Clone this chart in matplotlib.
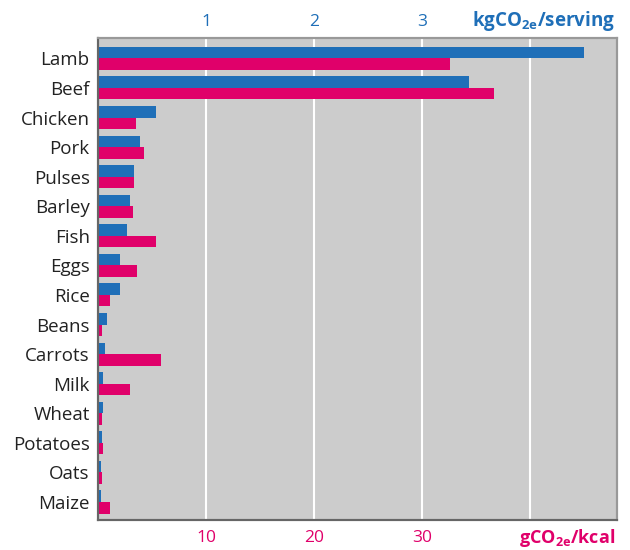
import matplotlib
matplotlib.use("Agg")
import matplotlib.pyplot as plt
import numpy as np

plt.rcParams['font.family'] = ['Open Sans', 'DejaVu Sans']

foods = ['Lamb', 'Beef', 'Chicken', 'Pork', 'Pulses', 'Barley', 'Fish', 'Eggs',
         'Rice', 'Beans', 'Carrots', 'Milk', 'Wheat', 'Potatoes', 'Oats', 'Maize']
# kgCO2e per serving (top axis)
per_serving = [4.50, 3.43, 0.54, 0.39, 0.33, 0.30, 0.27, 0.20,
               0.20, 0.08, 0.06, 0.05, 0.05, 0.04, 0.03, 0.025]
# gCO2e per kcal (bottom axis)
per_kcal = [32.6, 36.6, 3.5, 4.3, 3.3, 3.2, 5.4, 3.65,
            1.07, 0.33, 5.8, 3.0, 0.33, 0.42, 0.33, 1.15]

blue = '#1f6fb8'
pink = '#e0006a'

fig = plt.figure(figsize=(6.3, 5.5), dpi=100)
ax = fig.add_axes([0.1556, 0.0545, 0.8234, 0.8765])
ax.set_facecolor('#cccccc')

y = np.arange(len(foods))
h = 0.39

ax.barh(y + h / 2, per_kcal, height=h, color=pink, zorder=2)
ax.set_xlim(0, 48)
ax.set_ylim(len(foods) - 1 + 0.61, -0.69)
ax.set_xticks([10, 20, 30, 40])
ax.set_xticklabels(['10', '20', '30', ''])
ax.xaxis.grid(True, color='white', linewidth=1.5, zorder=1)
ax.set_axisbelow(True)
ax.tick_params(axis='x', length=0, labelsize=12.5, labelcolor=pink, pad=7)
ax.set_yticks(y)
ax.set_yticklabels(foods)
ax.tick_params(axis='y', length=0, labelsize=13.5, labelcolor='#222222', pad=6)

# top axis for the per-serving values
ax2 = ax.twiny()
ax2.barh(y - h / 2, per_serving, height=h, color=blue, zorder=2)
ax2.set_xlim(0, 4.8)
ax2.set_ylim(ax.get_ylim())
ax2.set_xticks([1, 2, 3])
ax2.tick_params(axis='x', length=0, labelsize=12.5, labelcolor=blue, pad=6)

for a in (ax, ax2):
    a.spines['left'].set_color('#666666')
    a.spines['bottom'].set_color('#666666')
    a.spines['top'].set_color('#999999')
    a.spines['right'].set_color('#999999')
    for s in a.spines.values():
        s.set_linewidth(1.5)

fig.text(0.976, 0.962, r'kgCO$_{\mathregular{2e}}$/serving', color=blue,
         fontsize=13.5, fontweight='bold', ha='right', va='center')
fig.text(0.976, 0.022, r'gCO$_{\mathregular{2e}}$/kcal', color=pink,
         fontsize=13, fontweight='bold', ha='right', va='center')

fig.savefig('out.png', dpi=100)
